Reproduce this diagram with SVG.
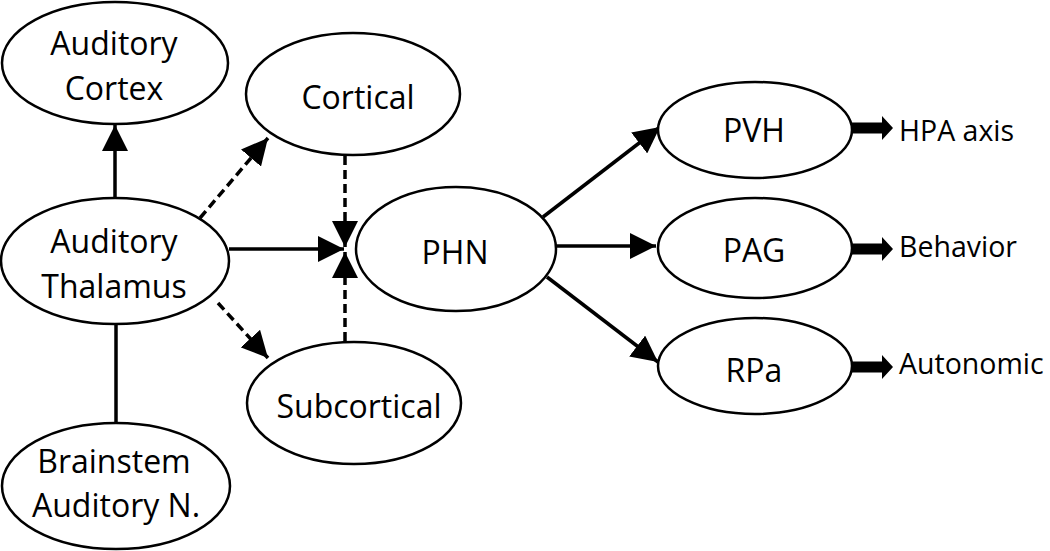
<svg xmlns="http://www.w3.org/2000/svg" width="1050" height="551" viewBox="0 0 1050 551">
<defs>
<style>
.n ellipse{fill:#fff;stroke:#000;stroke-width:2.5}
.n text, text.l{font-family:"Open Sans","Liberation Sans",sans-serif;font-size:32px;fill:#000;text-anchor:middle}
text.l{text-anchor:start;font-size:28.5px}
.c line{stroke:#000;stroke-width:3.5;fill:none}
.c .d{stroke-dasharray:9 5}
.c polygon{fill:#000}
</style>
<marker id="ah" viewBox="0 0 10 10" refX="10" refY="5" markerWidth="7.5" markerHeight="7.5" markerUnits="strokeWidth" orient="auto">
<path d="M0,0 L10,5 L0,10 Z" fill="#000"/>
</marker>
</defs>
<rect width="1050" height="551" fill="#fff"/>
<g class="c" id="connectors">
<line x1="115" y1="199" x2="115" y2="125" marker-end="url(#ah)"/>
<line x1="116" y1="324" x2="116" y2="423"/>
<line x1="229" y1="249" x2="344" y2="249" marker-end="url(#ah)"/>
<line class="d" x1="200" y1="218" x2="268" y2="138" marker-end="url(#ah)"/>
<line class="d" x1="218" y1="303" x2="268" y2="358" marker-end="url(#ah)"/>
<line class="d" x1="345" y1="156" x2="345" y2="247" marker-end="url(#ah)"/>
<line class="d" x1="345" y1="341" x2="345" y2="252" marker-end="url(#ah)"/>
<line x1="543" y1="217" x2="660" y2="127" marker-end="url(#ah)"/>
<line x1="556" y1="246" x2="656" y2="246" marker-end="url(#ah)"/>
<line x1="547" y1="277" x2="658" y2="362" marker-end="url(#ah)"/>
<polygon points="851,122.5 882,122.5 882,116 893,128 882,140 882,133.5 851,133.5"/>
<polygon points="851,243.5 882,243.5 882,237 893,249 882,261 882,254.5 851,254.5"/>
<polygon points="851,361.5 882,361.5 882,355 893,367 882,379 882,372.5 851,372.5"/>
</g>
<g class="n" id="auditory-cortex"><ellipse cx="115" cy="63" rx="113" ry="61"/><text x="114" y="55">Auditory</text><text x="114" y="100">Cortex</text></g>
<g class="n" id="cortical"><ellipse cx="353" cy="94" rx="107" ry="61"/><text x="358" y="109">Cortical</text></g>
<g class="n" id="auditory-thalamus"><ellipse cx="115" cy="261" rx="114" ry="63"/><text x="114" y="253">Auditory</text><text x="114" y="298">Thalamus</text></g>
<g class="n" id="brainstem"><ellipse cx="116" cy="486" rx="114" ry="63"/><text x="114" y="473">Brainstem</text><text x="116" y="517">Auditory N.</text></g>
<g class="n" id="subcortical"><ellipse cx="354" cy="403" rx="107" ry="61"/><text x="359" y="418">Subcortical</text></g>
<g class="n" id="phn"><ellipse cx="456" cy="249" rx="100" ry="62"/><text x="455" y="264">PHN</text></g>
<g class="n" id="pvh"><ellipse cx="755" cy="130" rx="97" ry="48"/><text x="754" y="142">PVH</text></g>
<g class="n" id="pag"><ellipse cx="755" cy="248" rx="97" ry="50"/><text x="754" y="262">PAG</text></g>
<g class="n" id="rpa"><ellipse cx="755" cy="366" rx="97" ry="48"/><text x="754" y="382">RPa</text></g>
<g id="outputs">
<text class="l" x="899" y="141">HPA axis</text>
<text class="l" x="899" y="257">Behavior</text>
<text class="l" x="899" y="374">Autonomic</text>
</g>
</svg>
